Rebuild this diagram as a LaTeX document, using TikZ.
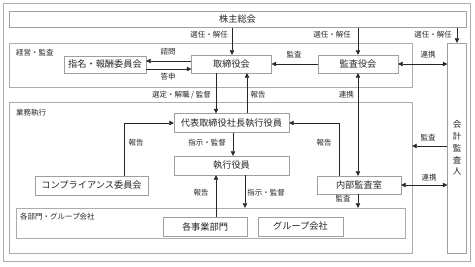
\documentclass[tikz,border=0pt]{standalone}
\usepackage{fontspec}
\setmainfont{Noto Sans CJK JP}
\usetikzlibrary{arrows.meta,calc,positioning}
\tikzset{box/.style={draw=gray!75,fill=white,inner sep=0pt,text=black!85,font=\fontsize{9.2}{11}\selectfont},
  region/.style={draw=gray!65,inner sep=0pt},
  lbl/.style={inner sep=0pt,text=black!85,font=\fontsize{7.5}{9}\selectfont},
  arr/.style={-{Triangle[length=4.5pt,width=4.5pt]},black!85,semithick},
  darr/.style={{Triangle[length=4.5pt,width=4.5pt]}-{Triangle[length=4.5pt,width=4.5pt]},black!85,semithick}}
\begin{document}
\begin{tikzpicture}[x=1pt,y=-1pt]
\useasboundingbox (0,0) rectangle (475,267);
\draw[gray!65] (3,3) rectangle (470,261);
% regions
\node[region,minimum width=403,minimum height=44] (keiei) at (210.5,65) {};
\node[region,minimum width=403,minimum height=151] (gyomu) at (210.5,177.5) {};
\node[region,minimum width=389,minimum height=30] (kakubu) at (210.5,223) {};
\node[lbl,anchor=west] at (16,53) {経営・監査};
\node[lbl,anchor=west] at (16,113) {業務執行};
\node[lbl,anchor=west] at (20,217) {各部門・グループ会社};
% boxes
\node[box,minimum width=457,minimum height=16] (soukai) at (237.5,19.5) {株主総会};
\node[box,minimum width=82,minimum height=17] (shimei) at (105,64.5) {指名・報酬委員会};
\node[box,minimum width=80,minimum height=18] (torishimari) at (231.5,64) {取締役会};
\node[box,minimum width=80,minimum height=18] (kansayaku) at (358,64) {監査役会};
\node[box,minimum width=19,minimum height=210,align=center,font=\fontsize{8.5}{11.75}\selectfont] (kaikei) at (457,148)
  {会\\計\\監\\査\\人};
\node[box,minimum width=115,minimum height=19] (daihyo) at (231.5,123) {代表取締役社長執行役員};
\node[box,minimum width=115,minimum height=19] (shikko) at (231.5,165.5) {執行役員};
\node[box,minimum width=113,minimum height=19] (compliance) at (91.5,185.5) {コンプライアンス委員会};
\node[box,minimum width=84,minimum height=18] (naibu) at (359,185) {内部監査室};
\node[box,minimum width=84,minimum height=19] (jigyo) at (205,226.5) {各事業部門};
\node[box,minimum width=85,minimum height=19] (group) at (300.5,226.5) {グループ会社};
% connectors
\draw[arr] (soukai.south -| 232,0) -- (torishimari.north -| 232,0);
\draw[arr] (kansayaku |- soukai.south) -- (kansayaku.north);
\draw[arr] (kaikei |- soukai.south) -- (kaikei.north);
\node[lbl,anchor=east] at (228,35) {選任・解任};
\node[lbl,anchor=east] at (351,35) {選任・解任};
\node[lbl,anchor=east] at (452,35) {選任・解任};
\draw[arr] (torishimari.west |- 0,61) -- (shimei.east |- 0,61);
\draw[arr] (shimei.east |- 0,69) -- (torishimari.west |- 0,69);
\node[lbl] at (168,52) {諮問};
\node[lbl] at (168,77) {答申};
\draw[arr] (kansayaku.west) -- (torishimari.east);
\node[lbl] at (294,55) {監査};
\draw[darr] (kansayaku.east) -- (kaikei.west |- kansayaku.east);
\node[lbl] at (428,55) {連携};
\draw[arr] (torishimari.south -| 216,0) -- (daihyo.north -| 216,0);
\draw[arr] (daihyo.north -| 247,0) -- (torishimari.south -| 247,0);
\node[lbl,anchor=east] at (211,95) {選定・解職 / 監督};
\node[lbl] at (258,95) {報告};
\draw[darr] (kansayaku.south) -- (naibu.north -| kansayaku.south);
\node[lbl,anchor=east] at (354,95) {連携};
\draw[arr] (daihyo.south -| 233,0) -- (shikko.north -| 233,0);
\node[lbl] at (207,143) {指示・監督};
\draw[arr] (naibu.north -| 339,0) |- (daihyo.east);
\node[lbl] at (324,143) {報告};
\draw[arr] (compliance.north -| 124,0) |- (daihyo.west);
\node[lbl] at (136,143) {報告};
\draw[arr] (jigyo.north -| 216,0) -- (shikko.south -| 216,0);
\node[lbl] at (201,193) {報告};
\draw[arr] (shikko.south -| 245,0) -- (kakubu.north -| 245,0);
\node[lbl] at (266,193) {指示・監督};
\draw[arr] (naibu.south -| 358,0) -- (kakubu.north -| 358,0);
\node[lbl] at (343,199) {監査};
\draw[arr] (kaikei.west |- 0,146) -- (gyomu.east |- 0,146);
\node[lbl] at (428,138) {監査};
\draw[darr] (naibu.east) -- (kaikei.west |- naibu.east);
\node[lbl] at (429,178) {連携};
\end{tikzpicture}
\end{document}
